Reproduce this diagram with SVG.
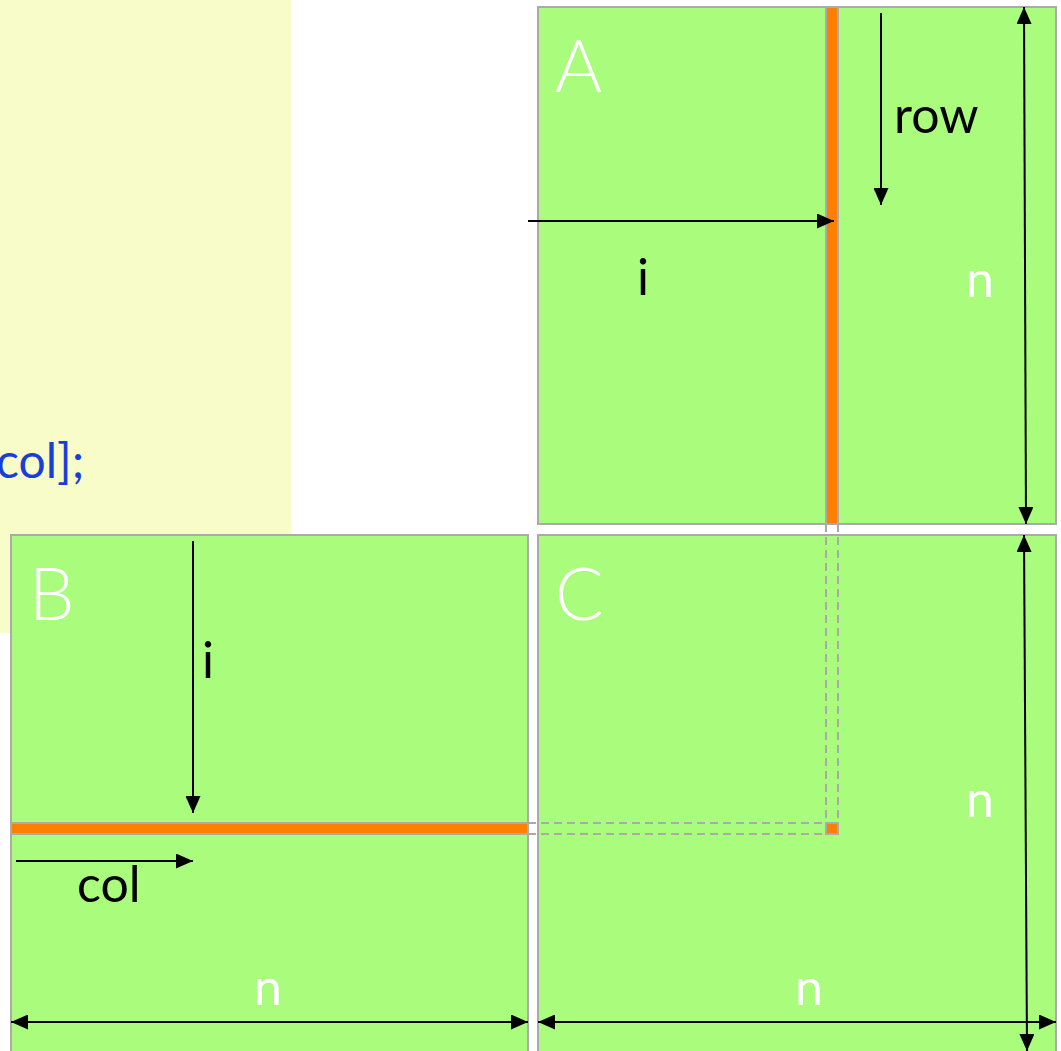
<svg xmlns="http://www.w3.org/2000/svg" width="1061" height="1051" viewBox="0 0 1061 1051">
<defs>
<style>
.bg{fill:#F8FCC8}
.mat{fill:#AAFC7C;stroke:#AAAAAA;stroke-width:2}
.strip{fill:#FF8000;stroke:#AAAAAA;stroke-width:2}
.dash{fill:none;stroke:#AAAAAA;stroke-width:2;stroke-dasharray:8 5}
.arr{stroke:#000;stroke-width:2;fill:none}
.cap{font-family:Lato,"Liberation Sans",sans-serif;font-size:72px;fill:#fff;font-weight:300}
.lw{font-family:Lato,"Liberation Sans",sans-serif;font-size:50px;fill:#fff;font-weight:400}
.lb{font-family:Lato,"Liberation Sans",sans-serif;font-size:50px;fill:#000;font-weight:400}
.code{font-family:Lato,"Liberation Sans",sans-serif;font-size:48px;fill:#1A3FD6;font-weight:400}
</style>
<marker id="ah" viewBox="0 0 17 15" refX="17" refY="7.5" markerWidth="17" markerHeight="15" markerUnits="userSpaceOnUse" orient="auto-start-reverse">
<path d="M0,0 L17,7.5 L0,15 Z" fill="#000"/>
</marker>
</defs>
<rect class="bg" x="0" y="0" width="291" height="633"/>
<text class="code" x="-4" y="478">col];</text>
<g id="A">
<rect class="mat" x="538" y="7" width="518" height="517"/>
<rect class="strip" x="826" y="7" width="12" height="517"/>
<text class="cap" x="555" y="92">A</text>
</g>
<g id="B">
<rect class="mat" x="11" y="535" width="517" height="520"/>
<rect class="strip" x="11" y="823" width="517" height="11"/>
<text class="cap" x="29" y="620">B</text>
</g>
<g id="C">
<rect class="mat" x="538" y="535" width="518" height="520"/>
<path class="dash" d="M826,524 V823 M838,524 V823 M528,823 H826 M528,834 H826"/>
<rect class="strip" x="826" y="823" width="12" height="11"/>
<text class="cap" x="555" y="620">C</text>
</g>
<g id="connectors">
<line class="arr" x1="528" y1="221" x2="834" y2="221" marker-end="url(#ah)"/>
<line class="arr" x1="881" y1="13" x2="881" y2="205" marker-end="url(#ah)"/>
<line class="arr" x1="1024" y1="7" x2="1026" y2="524" marker-start="url(#ah)" marker-end="url(#ah)"/>
<line class="arr" x1="1024" y1="535" x2="1027" y2="1051" marker-start="url(#ah)" marker-end="url(#ah)"/>
<line class="arr" x1="193" y1="541" x2="193" y2="813" marker-end="url(#ah)"/>
<line class="arr" x1="16" y1="861" x2="193" y2="861" marker-end="url(#ah)"/>
<line class="arr" x1="11" y1="1022" x2="528" y2="1022" marker-start="url(#ah)" marker-end="url(#ah)"/>
<line class="arr" x1="538" y1="1022" x2="1056" y2="1022" marker-start="url(#ah)" marker-end="url(#ah)"/>
</g>
<g id="labels">
<text class="lb" x="894" y="133">row</text>
<text class="lb" x="637" y="295">i</text>
<text class="lw" x="966" y="297">n</text>
<text class="lb" x="202" y="678">i</text>
<text class="lb" x="77" y="902">col</text>
<text class="lw" x="254" y="1005">n</text>
<text class="lw" x="795" y="1005">n</text>
<text class="lw" x="966" y="817">n</text>
</g>
</svg>
